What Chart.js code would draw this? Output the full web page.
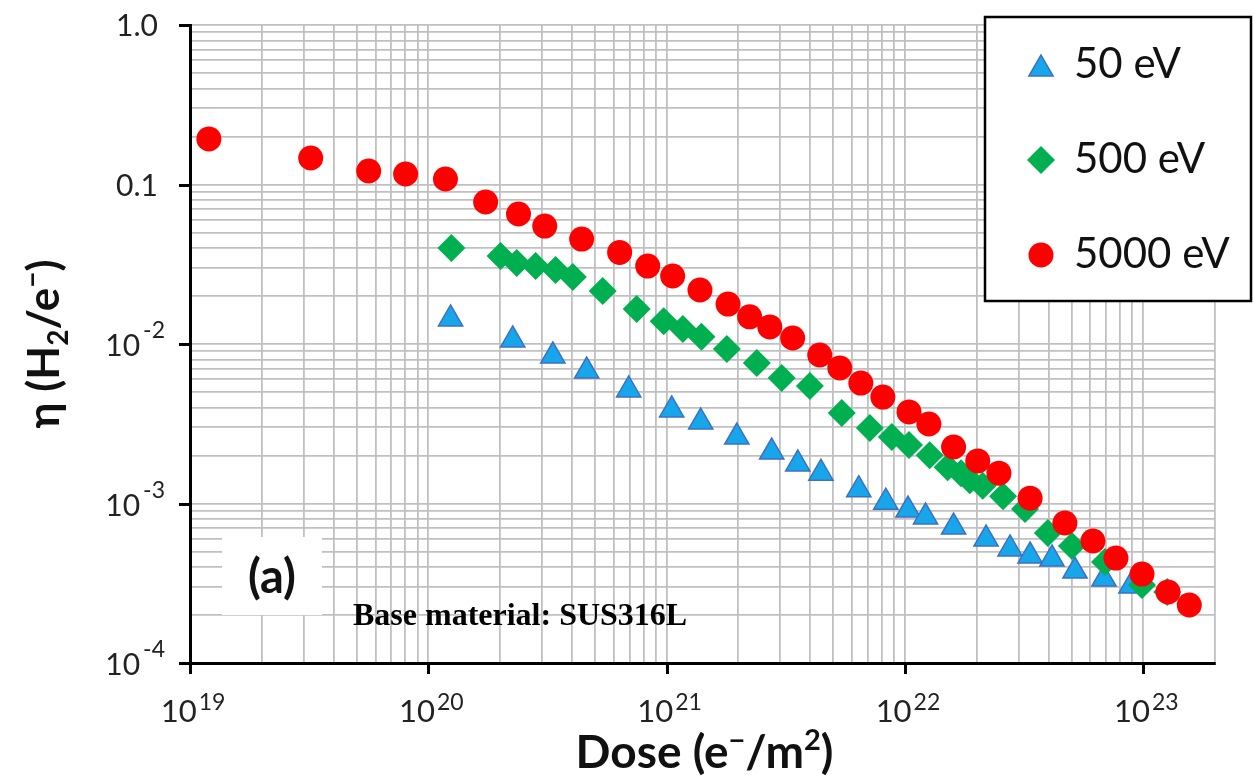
<!DOCTYPE html>
<html><head><meta charset="utf-8">
<script src="https://cdn.jsdelivr.net/npm/chart.js@4.4.1/dist/chart.umd.min.js"></script>
<style>html,body{margin:0;padding:0;background:#fff;}canvas{display:block;}</style>
</head><body>
<canvas id="c" width="1253" height="782"></canvas>
<script>
// ---------- DATA ----------
const dose50 = [1.24e20,2.26e20,3.33e20,4.62e20,6.93e20,1.05e21,1.39e21,1.97e21,2.76e21,3.55e21,4.44e21,6.40e21,8.31e21,1.03e22,1.22e22,1.60e22,2.19e22,2.76e22,3.35e22,4.14e22,5.17e22,6.84e22,8.88e22];
const eta50  = [0.01435,0.0106,8.41e-3,6.77e-3,5.15e-3,3.86e-3,3.24e-3,2.61e-3,2.10e-3,1.77e-3,1.55e-3,1.22e-3,1.02e-3,9.10e-4,8.23e-4,7.12e-4,5.99e-4,5.19e-4,4.69e-4,4.49e-4,3.77e-4,3.36e-4,3.04e-4];

const dose500 = [1.25e20,2.01e20,2.35e20,2.82e20,3.42e20,4.04e20,5.39e20,7.49e20,9.72e20,1.17e21,1.40e21,1.79e21,2.39e21,3.04e21,3.99e21,5.43e21,7.12e21,8.81e21,1.04e22,1.27e22,1.51e22,1.72e22,1.87e22,2.12e22,2.58e22,3.19e22,3.98e22,5.02e22,6.91e22,9.88e22,1.26e23];
const eta500  = [0.0400,0.0356,0.0322,0.0308,0.0291,0.0263,0.0215,0.0166,0.0139,0.0124,0.0111,9.30e-3,7.60e-3,6.12e-3,5.45e-3,3.69e-3,2.97e-3,2.61e-3,2.33e-3,2.01e-3,1.69e-3,1.55e-3,1.40e-3,1.29e-3,1.11e-3,9.24e-4,6.53e-4,5.41e-4,4.30e-4,3.08e-4,2.79e-4];

const dose5000 = [1.2e19,3.21e19,5.62e19,8.03e19,1.18e20,1.74e20,2.39e20,3.08e20,4.40e20,6.35e20,8.33e20,1.06e21,1.38e21,1.81e21,2.23e21,2.71e21,3.38e21,4.39e21,5.33e21,6.53e21,8.08e21,1.04e22,1.26e22,1.60e22,2.02e22,2.48e22,3.35e22,4.69e22,6.15e22,7.68e22,9.88e22,1.27e23,1.56e23];
const eta5000  = [0.193,0.1466,0.1215,0.1164,0.1083,0.0777,0.0653,0.0549,0.0455,0.0375,0.0308,0.0267,0.0218,0.0178,0.0148,0.0128,0.0109,8.53e-3,7.07e-3,5.69e-3,4.65e-3,3.75e-3,3.15e-3,2.26e-3,1.85e-3,1.55e-3,1.08e-3,7.55e-4,5.82e-4,4.55e-4,3.61e-4,2.79e-4,2.31e-4];

const seriesLabels = ['50 eV','500 eV','5000 eV'];
const xMajorTicks = [1e19,1e20,1e21,1e22,1e23];
const xMajorExp = ['19','20','21','22','23'];
const yMajorTicks = [1,0.1,0.01,0.001,0.0001];
const yMajorBase = ['1.0','0.1','10','10','10'];
const yMajorExp = ['','','-2','-3','-4'];
const xMin = 1e19, xMax = 2e23, yMin = 1e-4, yMax = 1;
const xTitle = ['Dose (e','\u2212','/m','2',')'];
const yTitle = ['\u03B7 (H','2','/e','\u2212',')'];
const panelLabel = '(a)';
const noteText = 'Base material: SUS316L';

// ---------- helpers ----------
function logGrid(minExp, maxExp, maxVal){
  const out=[];
  for(let e=minExp;e<maxExp;e++){ for(let k=1;k<=9;k++){ out.push(Number(k+'e'+e)); } }
  out.push(Number('1e'+maxExp));
  if(maxVal>Number('1e'+maxExp)) out.push(maxVal);
  return out;
}
const xGrid = logGrid(19,23,xMax);
const yGrid = logGrid(-4,0,yMax);
const pts = (xs,ys)=>xs.map((x,i)=>({x:x,y:ys[i]}));

const FONT='Lato, "Open Sans", sans-serif';
const BLUE='#17a6ea', BLUE_B='#3d70c2', GREEN='#00b050', RED='#ff0000';
const GRID='#c0c0c0';

const decor = {
  id:'decor',
  afterDraw(chart){
    const ctx=chart.ctx, xs=chart.scales.x, ys=chart.scales.y, a=chart.chartArea;
    ctx.save();
    // major ticks
    ctx.strokeStyle='#000'; ctx.lineWidth=3;
    xMajorTicks.forEach(v=>{const p=Math.round(xs.getPixelForValue(v))+0.5;ctx.beginPath();ctx.moveTo(p,a.bottom);ctx.lineTo(p,a.bottom+11);ctx.stroke();});
    yMajorTicks.forEach(v=>{const p=Math.round(ys.getPixelForValue(v))+0.5;ctx.beginPath();ctx.moveTo(a.left,p);ctx.lineTo(a.left-11,p);ctx.stroke();});
    // x tick labels
    ctx.fillStyle='#222'; ctx.textBaseline='alphabetic';
    xMajorTicks.forEach((v,i)=>{
      const p=xs.getPixelForValue(v);
      ctx.font='31px '+FONT; const w1=ctx.measureText('10').width;
      ctx.font='23px '+FONT; const w2=ctx.measureText(xMajorExp[i]).width;
      const left=p+3-(w1+2+w2)/2;
      ctx.font='31px '+FONT; ctx.textAlign='left'; ctx.fillText('10',left,722);
      ctx.font='23px '+FONT; ctx.fillText(xMajorExp[i],left+w1+2,710);
    });
    // y tick labels
    yMajorTicks.forEach((v,i)=>{
      const p=ys.getPixelForValue(v);
      ctx.textAlign='left';
      if(!yMajorExp[i]){
        ctx.font='30px '+FONT; const w=ctx.measureText(yMajorBase[i]).width;
        ctx.fillText(yMajorBase[i],158-w,p+11);
      } else {
        ctx.font='30px '+FONT; const w1=ctx.measureText(yMajorBase[i]).width;
        ctx.font='23px '+FONT; const w2=ctx.measureText(yMajorExp[i]).width;
        const left=165-(w1+3+w2);
        ctx.font='30px '+FONT; ctx.fillText(yMajorBase[i],left,p+12);
        ctx.font='23px '+FONT; ctx.fillText(yMajorExp[i],left+w1+3,p-6);
      }
    });
    // x title
    ctx.fillStyle='#111';
    const bigX='bold 46px '+FONT, supX='bold 29px '+FONT;
    const partsX=[[xTitle[0],bigX,0],[xTitle[1],supX,-18],[xTitle[2],bigX,0],[xTitle[3],supX,-18],[xTitle[4],bigX,0]];
    let tw=0; partsX.forEach(p=>{ctx.font=p[1];tw+=ctx.measureText(p[0]).width;});
    let cx=(a.left+a.right)/2+2-tw/2;
    partsX.forEach(p=>{ctx.font=p[1];ctx.textAlign='left';ctx.fillText(p[0],cx,768+p[2]);cx+=ctx.measureText(p[0]).width;});
    // y title (rotated)
    ctx.save(); ctx.translate(59,344); ctx.rotate(-Math.PI/2);
    const bigY='bold 44px '+FONT, smY='bold 28px '+FONT;
    const partsY=[[yTitle[0],bigY,0],[yTitle[1],smY,9],[yTitle[2],bigY,0],[yTitle[3],smY,-17],[yTitle[4],bigY,0]];
    tw=0; partsY.forEach(p=>{ctx.font=p[1];tw+=ctx.measureText(p[0]).width;});
    cx=-tw/2;
    partsY.forEach(p=>{ctx.font=p[1];ctx.textAlign='left';ctx.fillText(p[0],cx,p[2]);cx+=ctx.measureText(p[0]).width;});
    ctx.restore();
    // (a) box
    ctx.fillStyle='#fff'; ctx.fillRect(222,537,100,78);
    ctx.fillStyle='#111'; ctx.font='bold 47px '+FONT; ctx.textAlign='center'; ctx.textBaseline='middle';
    ctx.fillText(panelLabel,272,578);
    // note
    ctx.font='bold 32px "Liberation Serif", "Times New Roman", serif'; ctx.textAlign='left'; ctx.textBaseline='alphabetic';
    ctx.fillStyle='#000'; ctx.fillText(noteText,353,625);
    // legend
    ctx.fillStyle='#fff'; ctx.fillRect(985,17,266,284);
    ctx.strokeStyle='#000'; ctx.lineWidth=2.5; ctx.strokeRect(985,17,266,284);
    const legRows=[69,160,255];
    const styles=[{pointStyle:'triangle',radius:14,borderWidth:1.5,bg:BLUE,bc:BLUE_B},{pointStyle:'rectRot',radius:14,borderWidth:0,bg:GREEN,bc:GREEN},{pointStyle:'circle',radius:12.5,borderWidth:0,bg:RED,bc:RED}];
    const legBase=[78,173,268];
    styles.forEach((s,i)=>{
      ctx.fillStyle=s.bg; ctx.strokeStyle=s.bc; ctx.lineWidth=s.borderWidth;
      Chart.helpers.drawPoint(ctx,{pointStyle:s.pointStyle,radius:s.radius,rotation:0,borderWidth:s.borderWidth},1041,legRows[i]);
      ctx.fillStyle='#111'; ctx.font='42px '+FONT; ctx.textAlign='left'; ctx.textBaseline='alphabetic';
      ctx.fillText(seriesLabels[i],1074,legBase[i]);
    });
    ctx.restore();
  }
};

new Chart(document.getElementById('c'),{
  type:'scatter',
  data:{datasets:[
    {label:seriesLabels[0],data:pts(dose50,eta50),pointStyle:'triangle',pointRadius:14,backgroundColor:BLUE,borderColor:BLUE_B,borderWidth:1.5,order:3},
    {label:seriesLabels[1],data:pts(dose500,eta500),pointStyle:'rectRot',pointRadius:14,backgroundColor:GREEN,borderColor:GREEN,borderWidth:0,order:2},
    {label:seriesLabels[2],data:pts(dose5000,eta5000),pointStyle:'circle',pointRadius:12.5,backgroundColor:RED,borderColor:RED,borderWidth:0,order:1}
  ]},
  options:{
    responsive:false, animation:false, devicePixelRatio:1,
    layout:{padding:{top:25,right:38,left:0,bottom:0},autoPadding:false},
    plugins:{legend:{display:false},tooltip:{enabled:false}},
    scales:{
      x:{type:'logarithmic',min:xMin,max:xMax,
        afterBuildTicks:(s)=>{s.ticks=xGrid.map(v=>({value:v}));},
        afterFit:(s)=>{s.height=119;},
        ticks:{display:false},
        grid:{color:GRID,lineWidth:1.8,drawTicks:false},
        border:{display:true,color:'#000',width:3}},
      y:{type:'logarithmic',min:yMin,max:yMax,
        afterBuildTicks:(s)=>{s.ticks=yGrid.map(v=>({value:v}));},
        afterFit:(s)=>{s.width=190;},
        ticks:{display:false},
        grid:{color:GRID,lineWidth:1.8,drawTicks:false},
        border:{display:true,color:'#000',width:3}}
    }
  },
  plugins:[decor]
});
</script>
</body></html>
